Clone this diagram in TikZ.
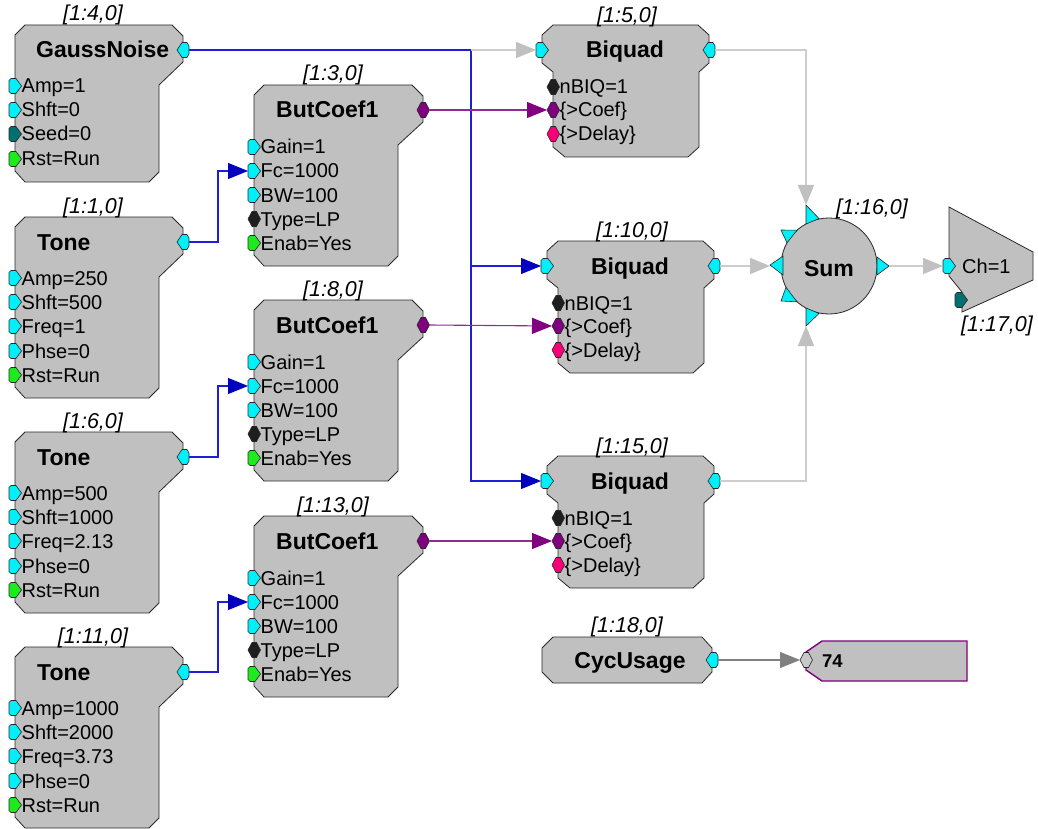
\documentclass[tikz,border=0pt]{standalone}
\usepackage{fontspec}
\setmainfont{Liberation Sans}
\usetikzlibrary{arrows.meta}

\definecolor{bodyfill}{RGB}{192,192,192}
\definecolor{edgec}{RGB}{40,40,40}
\definecolor{pcyan}{RGB}{0,240,250}
\definecolor{pgreen}{RGB}{30,235,30}
\definecolor{pteal}{RGB}{0,112,112}
\definecolor{pdark}{RGB}{30,30,30}
\definecolor{ppurple}{RGB}{128,0,128}
\definecolor{ppink}{RGB}{250,0,120}
\definecolor{pgray}{RGB}{200,200,200}
\definecolor{wblue}{RGB}{30,30,215}
\definecolor{ablue}{RGB}{0,0,190}
\definecolor{wpurple}{RGB}{150,40,150}
\definecolor{wlight}{RGB}{205,205,205}
\definecolor{alight}{RGB}{192,192,192}
\definecolor{wgray}{RGB}{128,128,128}

% block outlines: left-type (title bar wider than body on the right)
\newcommand\leftblock[5]{% L, R, R2, Y(title), B(bottom)
  \filldraw[body] (#1,#4-15) -- (#1+10,#4-25) -- (#2-11,#4-25) -- (#2,#4-14)
    -- (#2,#4+12) -- (#3,#4+35) -- (#3,#5-10) -- (#3-10,#5)
    -- (#1+10,#5) -- (#1,#5-11) -- cycle;}
% biquad-type (title bar wider on both sides)
\newcommand\bqblock[6]{% L, R, L2, R2, Y, B
  \filldraw[body] (#1,#5-15) -- (#1+11,#5-25) -- (#2-11,#5-25) -- (#2,#5-15)
    -- (#2,#5+13) -- (#4,#5+22) -- (#4,#6-10) -- (#4-11,#6)
    -- (#3+12,#6) -- (#3,#6-10) -- (#3,#5+22) -- (#1,#5+13) -- cycle;}

% ports
\newcommand\inpt[4]{%
  \filldraw[portedge, fill=#4] (#2-6,#3-5.5) -- (#2-4,#3-7.5) -- (#2+1,#3-7.5) -- (#2+6.5,#3)
    -- (#2+1,#3+7.5) -- (#2-4,#3+7.5) -- (#2-6,#3+5.5) -- cycle;
  \coordinate (#1) at (#2-6,#3);}
\newcommand\hexshape[3]{%
  \filldraw[portedge, fill=#3] (#1-6,#2) -- (#1-2,#2-7.5) -- (#1+2.5,#2-7.5) -- (#1+6.5,#2)
    -- (#1+2.5,#2+7.5) -- (#1-2,#2+7.5) -- cycle;}
\newcommand\hexin[4]{\hexshape{#2}{#3}{#4}\coordinate (#1) at (#2-6,#3);}
\newcommand\hexout[4]{\hexshape{#2}{#3}{#4}\coordinate (#1) at (#2+6.5,#3);}
\newcommand\outpt[4]{%
  \filldraw[portedge, fill=#4] (#2-6,#3) -- (#2-1,#3-7.5) -- (#2+4,#3-7.5) -- (#2+6,#3-4)
    -- (#2+6,#3+4) -- (#2+4,#3+7.5) -- (#2-1,#3+7.5) -- cycle;
  \coordinate (#1) at (#2+6,#3);}
\newcommand\pin[5]{\inpt{#1}{#2}{#3}{#4}\node[param] (#1-txt) at (#2+6.5,#3) {#5};}
\newcommand\pinhex[5]{\hexin{#1}{#2}{#3}{#4}\node[param] (#1-txt) at (#2+6.5,#3) {#5};}

\begin{document}
\begin{tikzpicture}[x=1pt, y=-1pt,
  body/.style={fill=bodyfill, draw=edgec, line width=0.8pt},
  portedge/.style={draw=edgec, line width=0.6pt},
  param/.style={anchor=base west, yshift=-7pt, inner sep=0pt, font=\fontsize{20}{23}\selectfont},
  title/.style={anchor=base west, yshift=-8pt, inner sep=0pt, font=\fontsize{23}{27}\selectfont\bfseries},
  ctitle/.style={title, anchor=base},
  tag/.style={anchor=base, yshift=-7.5pt, inner sep=0pt, font=\fontsize{21.5}{25}\selectfont\itshape},
  bluewire/.style={draw=wblue, line width=1.1pt, -{Triangle[length=20pt,width=16pt,color=ablue]}},
  purplewire/.style={draw=wpurple, line width=1.1pt, -{Triangle[length=20pt,width=16pt,color=ppurple]}},
  lightwire/.style={draw=wlight, line width=1.5pt, -{Triangle[length=20pt,width=16pt,color=alight]}},
  graywire/.style={draw=wgray, line width=1.1pt, -{Triangle[length=20pt,width=16pt,color=wgray]}},
  sumport/.style={fill=pcyan, draw=edgec, line width=0.6pt}
]
\useasboundingbox (0,0) rectangle (1038,829);

% ---------- GaussNoise ----------
\leftblock{15}{183}{159}{50}{182}
\node[tag] (gn-id) at (93,13) {[1:4,0]};
\node[title] (gn) at (36,50) {GaussNoise};
\outpt{gn-out}{183}{50}{pcyan}
\pin{gn-amp}{15}{86}{pcyan}{Amp=1}
\pin{gn-shft}{15}{110}{pcyan}{Shft=0}
\pin{gn-seed}{15}{134}{pteal}{Seed=0}
\pin{gn-rst}{15}{159}{pgreen}{Rst=Run}

% ---------- Tone generators ----------
\leftblock{15}{183}{159}{242}{398}
\node[tag] (t1-id) at (93,206) {[1:1,0]};
\node[title] (t1) at (37,242) {Tone};
\outpt{t1-out}{183}{242}{pcyan}
\pin{t1-amp}{15}{278}{pcyan}{Amp=250}
\pin{t1-shft}{15}{302}{pcyan}{Shft=500}
\pin{t1-freq}{15}{326}{pcyan}{Freq=1}
\pin{t1-phse}{15}{351}{pcyan}{Phse=0}
\pin{t1-rst}{15}{375}{pgreen}{Rst=Run}

\leftblock{15}{183}{159}{457}{613}
\node[tag] (t2-id) at (93,421) {[1:6,0]};
\node[title] (t2) at (37,457) {Tone};
\outpt{t2-out}{183}{457}{pcyan}
\pin{t2-amp}{15}{493}{pcyan}{Amp=500}
\pin{t2-shft}{15}{517}{pcyan}{Shft=1000}
\pin{t2-freq}{15}{541}{pcyan}{Freq=2.13}
\pin{t2-phse}{15}{566}{pcyan}{Phse=0}
\pin{t2-rst}{15}{590}{pgreen}{Rst=Run}

\leftblock{15}{183}{159}{672}{828}
\node[tag] (t3-id) at (93,636) {[1:11,0]};
\node[title] (t3) at (37,672) {Tone};
\outpt{t3-out}{183}{672}{pcyan}
\pin{t3-amp}{15}{708}{pcyan}{Amp=1000}
\pin{t3-shft}{15}{732}{pcyan}{Shft=2000}
\pin{t3-freq}{15}{756}{pcyan}{Freq=3.73}
\pin{t3-phse}{15}{781}{pcyan}{Phse=0}
\pin{t3-rst}{15}{805}{pgreen}{Rst=Run}

% ---------- Butterworth coefficient blocks ----------
\leftblock{254}{423}{398}{110}{266}
\node[tag] (bc1-id) at (333,73) {[1:3,0]};
\node[title] (bc1) at (276,110) {ButCoef1};
\hexout{bc1-out}{423}{110}{ppurple}
\pin{bc1-gain}{254}{147}{pcyan}{Gain=1}
\pin{bc1-fc}{254}{171}{pcyan}{Fc=1000}
\pin{bc1-bw}{254}{195}{pcyan}{BW=100}
\pinhex{bc1-type}{254}{219}{pdark}{Type=LP}
\pin{bc1-enab}{254}{243}{pgreen}{Enab=Yes}

\leftblock{254}{423}{398}{325}{481}
\node[tag] (bc2-id) at (333,289) {[1:8,0]};
\node[title] (bc2) at (276,325) {ButCoef1};
\hexout{bc2-out}{423}{325}{ppurple}
\pin{bc2-gain}{254}{362}{pcyan}{Gain=1}
\pin{bc2-fc}{254}{386}{pcyan}{Fc=1000}
\pin{bc2-bw}{254}{410}{pcyan}{BW=100}
\pinhex{bc2-type}{254}{434}{pdark}{Type=LP}
\pin{bc2-enab}{254}{458}{pgreen}{Enab=Yes}

\leftblock{254}{423}{398}{541}{697}
\node[tag] (bc3-id) at (333,505) {[1:13,0]};
\node[title] (bc3) at (276,541) {ButCoef1};
\hexout{bc3-out}{423}{541}{ppurple}
\pin{bc3-gain}{254}{578}{pcyan}{Gain=1}
\pin{bc3-fc}{254}{602}{pcyan}{Fc=1000}
\pin{bc3-bw}{254}{626}{pcyan}{BW=100}
\pinhex{bc3-type}{254}{650}{pdark}{Type=LP}
\pin{bc3-enab}{254}{674}{pgreen}{Enab=Yes}

% ---------- Biquad filters ----------
\bqblock{542}{709}{553}{699}{50}{157}
\node[tag] (bq1-id) at (627,15) {[1:5,0]};
\node[ctitle] (bq1) at (625,50) {Biquad};
\inpt{bq1-in}{542}{50}{pcyan}
\outpt{bq1-out}{709}{50}{pcyan}
\pinhex{bq1-nbiq}{553}{87}{pdark}{nBIQ=1}
\pinhex{bq1-coef}{553}{110}{ppurple}{\{>Coef\}}
\pinhex{bq1-delay}{553}{134}{ppink}{\{>Delay\}}

\bqblock{547}{714}{558}{704}{266}{373}
\node[tag] (bq2-id) at (632,230) {[1:10,0]};
\node[ctitle] (bq2) at (630,266) {Biquad};
\inpt{bq2-in}{547}{266}{pcyan}
\outpt{bq2-out}{714}{266}{pcyan}
\pinhex{bq2-nbiq}{558}{303}{pdark}{nBIQ=1}
\pinhex{bq2-coef}{558}{326}{ppurple}{\{>Coef\}}
\pinhex{bq2-delay}{558}{350}{ppink}{\{>Delay\}}

\bqblock{547}{714}{558}{704}{481}{588}
\node[tag] (bq3-id) at (632,446) {[1:15,0]};
\node[ctitle] (bq3) at (630,481) {Biquad};
\inpt{bq3-in}{547}{481}{pcyan}
\outpt{bq3-out}{714}{481}{pcyan}
\pinhex{bq3-nbiq}{558}{518}{pdark}{nBIQ=1}
\pinhex{bq3-coef}{558}{541}{ppurple}{\{>Coef\}}
\pinhex{bq3-delay}{558}{565}{ppink}{\{>Delay\}}

% ---------- Sum ----------
\filldraw[body] (829,266) circle[radius=48];
\filldraw[sumport] (806,205) -- (806,224) -- (819,218.5) -- cycle;
\filldraw[sumport] (781,230) -- (797,230.2) -- (787,242.8) -- cycle;
\filldraw[sumport] (770,265) -- (783,256) -- (783,275) -- cycle;
\filldraw[sumport] (781,301) -- (786,287.3) -- (797,301.8) -- cycle;
\filldraw[sumport] (806,326) -- (806,308) -- (819,313.5) -- cycle;
\filldraw[sumport] (877,257) -- (889,266) -- (877,275) -- cycle;
\coordinate (sum-n) at (806,205);
\coordinate (sum-w) at (770,266);
\coordinate (sum-s) at (806,326);
\coordinate (sum-e) at (889,266);
\node[ctitle] (sum) at (829,268) {Sum};
\node[tag] (sum-id) at (872,207) {[1:16,0]};

% ---------- DAC output ----------
\filldraw[body] (949,207) -- (1033,252) -- (1033,280) -- (962,312) -- (962,292) -- (949,276) -- cycle;
\inpt{dac-ch}{949}{266}{pcyan}
\inpt{dac-aux}{961}{300}{pteal}
\node[param] (dac-txt) at (962,266) {Ch=1};
\node[tag] (dac-id) at (997,324) {[1:17,0]};

% ---------- CycUsage and display ----------
\filldraw[body] (542,648) -- (553,637) -- (702,637) -- (712,648) -- (712,672) -- (702,683) -- (553,683) -- (542,672) -- cycle;
\node[tag] (cyc-id) at (627,625) {[1:18,0]};
\node[ctitle] (cyc) at (630,660) {CycUsage};
\outpt{cyc-out}{712}{660}{pcyan}
\filldraw[fill=bodyfill, draw=ppurple, line width=1.4pt] (806,652) -- (822,641) -- (967,641) -- (967,681) -- (822,681) -- (806,670) -- cycle;
\hexin{disp-in}{806}{660}{pgray}
\node[anchor=base west, yshift=-7pt, inner sep=0pt, font=\fontsize{18.5}{21}\selectfont\bfseries] (disp) at (822,660) {74};

% ---------- connections ----------
\coordinate (jn) at (471,50);
\draw[bluewire] (gn-out) -- (jn) |- (bq3-in);
\draw[bluewire] (jn |- bq2-in) -- (bq2-in);
\draw[lightwire] (jn) -- (bq1-in);
\draw[bluewire] (t1-out) -- ++(29,0) |- (bc1-fc);
\draw[bluewire] (t2-out) -- ++(29,0) |- (bc2-fc);
\draw[bluewire] (t3-out) -- ++(29,0) |- (bc3-fc);
\draw[purplewire] (bc1-out) -- (bq1-coef);
\draw[purplewire] (bc2-out) -- (bq2-coef);
\draw[purplewire] (bc3-out) -- (bq3-coef);
\draw[lightwire] (bq1-out) -| (sum-n);
\draw[lightwire] (bq2-out) -- (sum-w);
\draw[lightwire] (bq3-out) -| (sum-s);
\draw[lightwire] (sum-e) -- (dac-ch);
\draw[graywire] (cyc-out) -- (disp-in);
\end{tikzpicture}
\end{document}
